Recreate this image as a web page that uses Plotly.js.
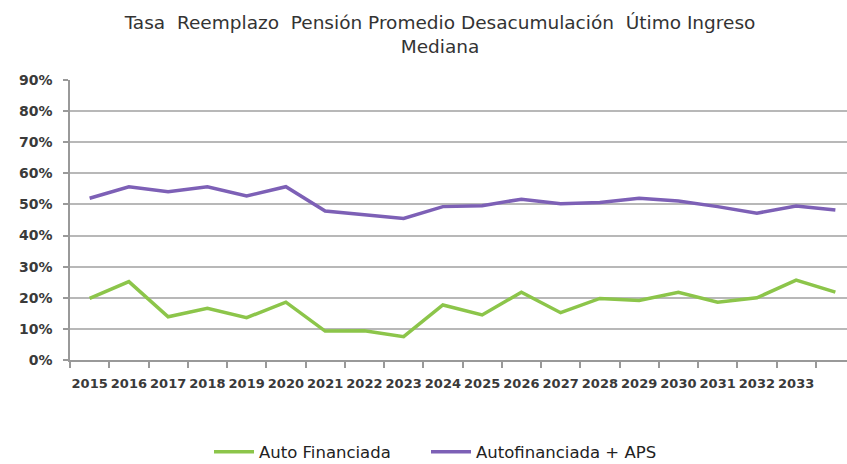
<!DOCTYPE html>
<html>
<head>
<meta charset="utf-8">
<script src="https://cdn.plot.ly/plotly-3.0.1.min.js"></script>
<style>
	html, body { margin: 0; padding: 0; background: #fff; overflow: hidden; }
	#chart { width: 880px; height: 464px; }
</style>
</head>
<body>
<div id="chart"></div>
<script>
// --- DONNÉES --- //
const years = ['2015','2016','2017','2018','2019','2020','2021','2022','2023','2024',
	'2025','2026','2027','2028','2029','2030','2031','2032','2033','2034'];
const autoFinanciada = [0.198,0.252,0.139,0.166,0.136,0.186,0.093,0.094,0.075,0.177,
	0.145,0.218,0.152,0.198,0.191,0.218,0.186,0.200,0.257,0.218];
const autoFinanciadaAps = [0.520,0.557,0.541,0.557,0.527,0.557,0.479,0.466,0.455,0.493,
	0.496,0.517,0.502,0.506,0.520,0.511,0.493,0.472,0.495,0.482];
const yTicks = [0,0.1,0.2,0.3,0.4,0.5,0.6,0.7,0.8,0.9];

const lbl = { family: 'DejaVu Sans', size: 13, color: '#3a3a3a', weight: 'bold' };
const legFont = { family: 'DejaVu Sans', size: 16.5, color: '#222' };
// position des légendes en px -> fraction du papier
const px = v => (v - 70) / 785;

Plotly.newPlot('chart', [
	{ x: years, y: autoFinanciada, name: 'Auto Financiada', type: 'scatter', mode: 'lines',
		line: { color: '#8cc54a', width: 3.5 }, legend: 'legend' },
	{ x: years, y: autoFinanciadaAps, name: 'Autofinanciada + APS', type: 'scatter', mode: 'lines',
		line: { color: '#7d60b6', width: 3.5 }, legend: 'legend2' }
], {
	width: 880, height: 464,
	margin: { l: 70, r: 25, t: 80, b: 104 },
	paper_bgcolor: '#fff',
	plot_bgcolor: '#fff',
	title: {
		text: 'Tasa  Reemplazo  Pensión Promedio Desacumulación  Útimo Ingreso<br>Mediana',
		x: 0.5, xanchor: 'center', yref: 'container', y: 1 - 29 / 464, yanchor: 'middle',
		font: { family: 'DejaVu Sans', size: 18.5, color: '#333' }
	},
	xaxis: {
		type: 'category',
		range: [-0.5, 19.5],
		tickvals: years.slice(0, 19),
		ticktext: years.slice(0, 19),
		tickson: 'boundaries',
		ticks: 'outside', ticklen: 6, tickcolor: '#999', tickwidth: 1.5,
		tickangle: 0,
		ticklabelstandoff: 11,
		tickfont: lbl,
		showgrid: false,
		showline: true, linecolor: '#999', linewidth: 1.5,
		zeroline: false
	},
	yaxis: {
		range: [0, 0.9],
		tickvals: yTicks,
		tickformat: '.0%',
		ticks: 'outside', ticklen: 5, tickcolor: '#999', tickwidth: 1.5,
		ticklabelstandoff: 8,
		tickfont: Object.assign({}, lbl, { size: 14 }),
		showgrid: true, gridcolor: '#b8b8b8', gridwidth: 2,
		showline: true, linecolor: '#999', linewidth: 1.5,
		zeroline: false
	},
	showlegend: true,
	legend: {
		orientation: 'h', x: px(209), xanchor: 'left',
		yref: 'container', y: 12 / 464, yanchor: 'middle',
		font: legFont, itemwidth: 40
	},
	legend2: {
		orientation: 'h', x: px(426), xanchor: 'left',
		yref: 'container', y: 12 / 464, yanchor: 'middle',
		font: legFont, itemwidth: 40
	}
}, { displayModeBar: false });
</script>
</body>
</html>
